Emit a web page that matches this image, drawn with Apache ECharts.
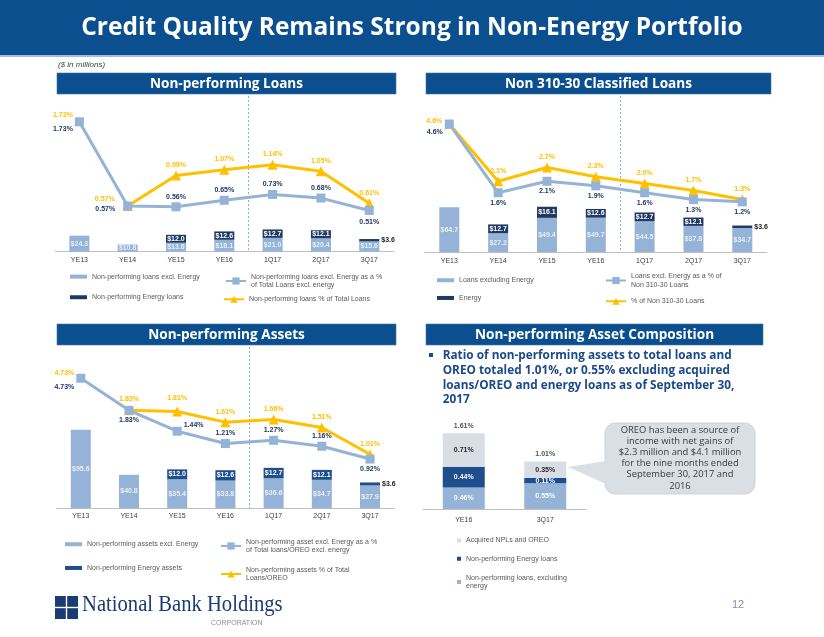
<!DOCTYPE html>
<html><head><meta charset="utf-8">
<script src="https://cdn.jsdelivr.net/npm/echarts@6/dist/echarts.min.js"></script>
<style>html,body{margin:0;padding:0;background:#fff}#c{width:824px;height:637px}</style>
</head><body><div id="c"></div>
<script>
// ---------- DATA ----------
const categories = ['YE13','YE14','YE15','YE16','1Q17','2Q17','3Q17'];
// Non-performing loans ($M and %)
const nplExEnergy    = [24.3, 10.8, 13.6, 18.1, 21.0, 20.4, 15.6];
const nplEnergy      = [null, null, 12.0, 12.6, 12.7, 12.1, 3.6];
const nplExEnergyPct = [1.73, 0.57, 0.56, 0.65, 0.73, 0.68, 0.51];
const nplTotalPct    = [1.73, 0.57, 0.99, 1.07, 1.14, 1.05, 0.61];
// Non 310-30 classified loans
const clsExEnergy    = [64.7, 27.2, 49.4, 49.7, 44.5, 37.8, 34.7];
const clsEnergy      = [null, 12.7, 16.1, 12.6, 12.7, 12.1, 3.6];
const clsExEnergyPct = [4.6, 1.6, 2.1, 1.9, 1.6, 1.3, 1.2];
const clsTotalPct    = [4.6, 2.1, 2.7, 2.3, 2.0, 1.7, 1.3];
// Non-performing assets
const npaExEnergy    = [95.6, 40.8, 35.4, 33.8, 36.6, 34.7, 27.9];
const npaEnergy      = [null, null, 12.0, 12.6, 12.7, 12.1, 3.6];
const npaExEnergyPct = [4.73, 1.83, 1.44, 1.21, 1.27, 1.16, 0.92];
const npaTotalPct    = [4.73, 1.83, 1.81, 1.61, 1.66, 1.51, 1.01];
// Non-performing asset composition (%)
const compCategories = ['YE16', '3Q17'];
const compExEnergy   = [0.46, 0.55];
const compEnergy     = [0.44, 0.11];
const compAcquired   = [0.71, 0.35];
const compTotal      = [1.61, 1.01];

// ---------- STYLE ----------
const LIGHT = '#95b3d7', NAVY = '#1f3864', MIDNAVY = '#1f4e8c', ORANGE = '#ffc000', PALE = '#d9dde5';
const DARKTXT = '#1f3864';
const FONT = 'Liberation Sans';
// label placement specs (position, dx, dy) per point
const nplBlueLbl = [['rich',0,0],['left',-6,3],['top'],['top'],['top'],['top'],['bottom',0,2]];
const nplOrgLbl  = [null,['left',-6,-7],['top'],['top'],['top'],['top'],['top']];
const clsBlueLbl = [['left',0,8],['bottom'],['bottom'],['bottom'],['bottom'],['bottom'],['bottom']];
const clsOrgLbl  = [['left',0,-3],['top'],['top'],['top'],['top'],['top'],['top']];
const npaBlueLbl = [['rich',0,2],['bottom'],['right',0,-6],['top'],['top'],['top'],['bottom']];
const npaOrgLbl  = [null,['top',0,-1],['top',0,-3],['top'],['top'],['top'],['top']];

const f2 = v => v.toFixed(2) + '%';
const f1 = v => v.toFixed(1) + '%';
const money = v => '$' + v.toFixed(1);

function lineData(vals, specs, fmt, otherVals, skipFirst) {
  return vals.map((v, i) => {
    if (skipFirst && i === 0) return '-';
    const s = specs[i];
    if (!s) return v;
    const [pos, dx = 0, dy = 0] = s;
    if (pos === 'rich') {
      return {value: v, label: {position: 'left', distance: 2, offset: [dx, dy],
        formatter: () => '{o|' + fmt(otherVals[i]) + '}\n{d|' + fmt(v) + '}',
        rich: {o: {color: ORANGE, fontSize: 7, fontWeight: 'bold', fontFamily: FONT, lineHeight: 14},
               d: {color: DARKTXT, fontSize: 7, fontWeight: 'bold', fontFamily: FONT, lineHeight: 14}}}};
    }
    return {value: v, label: {position: pos, offset: [dx, dy]}};
  });
}
function barData(vals, smallColor) {
  return vals.map(v => v == null ? '-' : (v < 5 ? {value: v, label: {position: 'right', distance: 2, color: smallColor}} : v));
}
function barSeries(name, xi, yi, stack, vals, color, lblColor) {
  return {type: 'bar', name, xAxisIndex: xi, yAxisIndex: yi, stack, barWidth: 20,
    itemStyle: {color}, data: barData(vals, '#222'),
    label: {show: true, position: 'inside', color: lblColor, fontSize: 7, fontWeight: 'bold', fontFamily: FONT,
      formatter: p => money(p.value)}};
}
function lineSeries(name, xi, yi, vals, color, symbol, size, specs, fmt, lblColor, other, skipFirst) {
  return {type: 'line', name, xAxisIndex: xi, yAxisIndex: yi, symbol, symbolSize: size,
    lineStyle: {color, width: 3}, itemStyle: {color}, z: 3,
    data: lineData(vals, specs, fmt, other, skipFirst),
    label: {show: true, position: 'top', distance: 2, color: lblColor, fontSize: 7, fontWeight: 'bold', fontFamily: FONT,
      formatter: p => fmt(p.value)}};
}

const legendText = {
  'Non-performing loans excl. Energy as a % of Total Loans excl. energy': 'Non-performing loans excl. Energy as a %\nof Total Loans excl. energy',
  'Loans excl. Energy as a % of Non 310-30 Loans': 'Loans excl. Energy as a % of\nNon 310-30 Loans',
  'Non-performing asset excl. Energy as a % of Total loans/OREO excl. energy': 'Non-performing asset excl. Energy as a %\nof Total loans/OREO excl. energy',
  'Non-performing assets % of Total Loans/OREO': 'Non-performing assets % of Total\nLoans/OREO',
  'Non-performing loans, excluding energy': 'Non-performing loans, excluding\nenergy'
};
function lg(name, left, top, kind, itemStyle) {
  const o = {left, top, padding: 0, itemGap: 0, selectedMode: false,
    data: [itemStyle ? {name, itemStyle} : name],
    textStyle: {fontSize: 7, color: '#595959', fontFamily: FONT, lineHeight: 8.5},
    formatter: n => legendText[n] || n};
  if (kind === 'bar') Object.assign(o, {icon: 'rect', itemWidth: 17, itemHeight: 4});
  else if (kind === 'sq') Object.assign(o, {icon: 'rect', itemWidth: 4, itemHeight: 4});
  else Object.assign(o, {itemWidth: 20, itemHeight: 9});
  return o;
}

const xAx = (gi, data, margin) => ({type: 'category', gridIndex: gi, data,
  axisLine: {lineStyle: {color: '#bfbfbf', width: 1}}, axisTick: {show: false},
  axisLabel: {fontSize: 7, color: '#404040', fontFamily: FONT, margin}});

const option = {
  animation: false,
  backgroundColor: '#fff',
  grid: [
    {left: 55.2, top: 100, width: 338.2, height: 151.7},
    {left: 424.9, top: 100, width: 341.8, height: 152},
    {left: 56.7, top: 374.5, width: 337.4, height: 133.8},
    {left: 423, top: 415, width: 163, height: 94}
  ],
  xAxis: [xAx(0, categories, 5), xAx(1, categories, 5.5), xAx(2, categories, 4), xAx(3, compCategories, 8)],
  yAxis: [
    {gridIndex: 0, type: 'value', min: 0, max: 230, show: false},
    {gridIndex: 0, type: 'value', min: -0.058, max: 2.03, show: false},
    {gridIndex: 1, type: 'value', min: 0, max: 220, show: false},
    {gridIndex: 1, type: 'value', min: -0.99, max: 5.65, show: false},
    {gridIndex: 2, type: 'value', min: 0, max: 163, show: false},
    {gridIndex: 2, type: 'value', min: 0, max: 4.8, show: false,
      breaks: [{start: 2.25, end: 4.6, gap: 0.05}], breakArea: {show: false}},
    {gridIndex: 3, type: 'value', min: 0, max: 2, show: false}
  ],
  legend: [
    lg('Non-performing loans excl. Energy', 70, 272.4, 'bar'),
    lg('Non-performing Energy loans', 70, 293, 'bar'),
    lg('Non-performing loans excl. Energy as a % of Total Loans excl. energy', 225, 272.5, 'line'),
    lg('Non-performing loans % of Total Loans', 223, 295, 'line'),
    lg('Loans excluding Energy', 437, 276, 'bar'),
    lg('Energy', 437, 293.7, 'bar'),
    lg('Loans excl. Energy as a % of Non 310-30 Loans', 605, 272, 'line'),
    lg('% of Non 310-30 Loans', 605, 297, 'line'),
    lg('Non-performing assets excl. Energy', 65, 540, 'bar'),
    lg('Non-performing Energy assets', 65, 563.7, 'bar'),
    lg('Non-performing asset excl. Energy as a % of Total loans/OREO excl. energy', 220, 537.5, 'line'),
    lg('Non-performing assets % of Total Loans/OREO', 220, 565.5, 'line'),
    lg('Acquired NPLs and OREO', 457, 536.2, 'sq'),
    lg('Non-performing Energy loans', 457, 554.5, 'sq', {color: MIDNAVY}),
    lg('Non-performing loans, excluding energy', 457, 573.5, 'sq')
  ],
  series: [
    // chart 1
    barSeries('Non-performing loans excl. Energy', 0, 0, 'npl', nplExEnergy, LIGHT, '#e8eef6'),
    barSeries('Non-performing Energy loans', 0, 0, 'npl', nplEnergy, NAVY, '#ffffff'),
    lineSeries('Non-performing loans % of Total Loans', 0, 1, nplTotalPct, ORANGE, 'triangle', 10, nplOrgLbl, f2, ORANGE, null, true),
    lineSeries('Non-performing loans excl. Energy as a % of Total Loans excl. energy', 0, 1, nplExEnergyPct, LIGHT, 'rect', 9, nplBlueLbl, f2, DARKTXT, nplTotalPct, false),
    // chart 2
    barSeries('Loans excluding Energy', 1, 2, 'cls', clsExEnergy, LIGHT, '#e8eef6'),
    barSeries('Energy', 1, 2, 'cls', clsEnergy, NAVY, '#ffffff'),
    lineSeries('% of Non 310-30 Loans', 1, 3, clsTotalPct, ORANGE, 'triangle', 10, clsOrgLbl, f1, ORANGE, null, false),
    lineSeries('Loans excl. Energy as a % of Non 310-30 Loans', 1, 3, clsExEnergyPct, LIGHT, 'rect', 9, clsBlueLbl, f1, DARKTXT, null, false),
    // chart 3
    barSeries('Non-performing assets excl. Energy', 2, 4, 'npa', npaExEnergy, LIGHT, '#e8eef6'),
    barSeries('Non-performing Energy assets', 2, 4, 'npa', npaEnergy, MIDNAVY, '#ffffff'),
    lineSeries('Non-performing assets % of Total Loans/OREO', 2, 5, npaTotalPct, ORANGE, 'triangle', 10, npaOrgLbl, f2, ORANGE, null, true),
    lineSeries('Non-performing asset excl. Energy as a % of Total loans/OREO excl. energy', 2, 5, npaExEnergyPct, LIGHT, 'rect', 9, npaBlueLbl, f2, DARKTXT, npaTotalPct, false),
    // chart 4
    {type: 'bar', name: 'Non-performing loans, excluding energy', xAxisIndex: 3, yAxisIndex: 6, stack: 'comp', barWidth: 42,
      itemStyle: {color: LIGHT}, data: compExEnergy,
      label: {show: true, position: 'inside', color: '#fff', fontSize: 7, fontWeight: 'bold', fontFamily: FONT, formatter: p => f2(p.value)}},
    {type: 'bar', name: 'Non-performing Energy loans', xAxisIndex: 3, yAxisIndex: 6, stack: 'comp', barWidth: 42,
      itemStyle: {color: MIDNAVY}, data: compEnergy,
      label: {show: true, position: 'inside', color: '#fff', fontSize: 7, fontWeight: 'bold', fontFamily: FONT, formatter: p => f2(p.value)}},
    {type: 'bar', name: 'Acquired NPLs and OREO', xAxisIndex: 3, yAxisIndex: 6, stack: 'comp', barWidth: 42,
      itemStyle: {color: PALE}, data: compAcquired,
      label: {show: true, position: 'inside', color: '#262626', fontSize: 7, fontWeight: 'bold', fontFamily: FONT, formatter: p => f2(p.value)}},
    {type: 'scatter', name: 'Total', xAxisIndex: 3, yAxisIndex: 6, symbolSize: 0, data: compTotal,
      label: {show: true, position: 'top', distance: 4, color: '#262626', fontSize: 7, fontWeight: 'bold', fontFamily: FONT, formatter: p => f2(p.value)}}
  ]
};

const chart = echarts.init(document.getElementById('c'), null, {renderer: 'canvas'});
chart.setOption(option);

// ---------- DECORATION ----------
const T = (x, y, text, font, fill, align, valign, extra) => Object.assign({type: 'text', x, y,
  style: {text, font, fill, textAlign: align || 'left', align: align || 'left', textVerticalAlign: valign || 'middle', verticalAlign: valign || 'middle'}}, extra || {});
const G = [];
G.push({type: 'rect', shape: {x: 0, y: 0, width: 824, height: 55}, style: {fill: '#0b4f8f'}});
G.push({type: 'rect', shape: {x: 0, y: 55, width: 824, height: 2}, style: {fill: '#a3bcd8'}});
G.push(T(412, 28, 'Credit Quality Remains Strong in Non-Energy Portfolio', 'bold 24.5px "Open Sans"', '#ffffff', 'center'));
G.push(T(58, 65, '($ in millions)', 'italic 8px "Liberation Sans"', '#404040'));
function header(x, y, w, h, text) {
  G.push({type: 'rect', shape: {x, y, width: w, height: h}, style: {fill: '#0c4f8f', stroke: '#3f73ad', lineWidth: 0.6}});
  G.push(T(x + w / 2, y + h / 2 + 0.5, text, 'bold 13.6px "Open Sans"', '#ffffff', 'center'));
}
header(57, 73, 339, 21, 'Non-performing Loans');
header(426, 73, 345, 21, 'Non 310-30 Classified Loans');
header(57, 324, 339, 21, 'Non-performing Assets');
header(426, 324, 337, 21, 'Non-performing Asset Composition');
// bullet text
G.push({type: 'rect', shape: {x: 429, y: 353, width: 4, height: 4}, style: {fill: '#1a4a8a'}});
G.push({type: 'text', x: 442.7, y: 348.6, style: {
  text: 'Ratio of non-performing assets to total loans and\nOREO totaled 1.01%, or 0.55% excluding acquired\nloans/OREO and energy loans as of September 30,\n2017',
  font: 'bold 11.8px "Open Sans"', fill: '#1a4a8a', lineHeight: 14.7, textVerticalAlign: 'top', verticalAlign: 'top'}});
// callout
G.push({type: 'rect', shape: {x: 605, y: 423, width: 150, height: 71, r: 10}, style: {fill: '#dadee5', stroke: '#c8cdd6', lineWidth: 0.8}});
G.push({type: 'polygon', shape: {points: [[606, 461], [568, 467], [606, 484]]}, style: {fill: '#dadee5'}});
G.push({type: 'text', x: 680, y: 424.4, style: {
  text: 'OREO has been a source of\nincome with net gains of\n$2.3 million and $4.1 million\nfor the nine months ended\nSeptember 30, 2017 and\n2016',
  font: '9.4px "Open Sans"', fill: '#3a3a3a', lineHeight: 11.2, textAlign: 'center', align: 'center', textVerticalAlign: 'top', verticalAlign: 'top'}});
// logo
G.push({type: 'rect', shape: {x: 55, y: 596, width: 23, height: 23}, style: {fill: '#1b3c73'}});
G.push({type: 'rect', shape: {x: 65.8, y: 596, width: 1.4, height: 23}, style: {fill: '#ffffff'}});
G.push({type: 'rect', shape: {x: 55, y: 606.8, width: 23, height: 1.4}, style: {fill: '#ffffff'}});
G.push({type: 'text', x: 82, y: 617, scaleX: 0.86, style: {text: 'National Bank Holdings', font: '24px "Liberation Serif"', fill: '#1b3c73', textVerticalAlign: 'bottom', verticalAlign: 'bottom'}});
G.push(T(211, 623, 'CORPORATION', '7px "Liberation Sans"', '#8c8c8c'));
G.push(T(738, 605, '12', '11px "Liberation Sans"', '#7f8fa6', 'center'));
// period separators between YE16 and 1Q17
function sep(xi, y0, y1) {
  const a = chart.convertToPixel({xAxisIndex: xi}, 'YE16');
  const b = chart.convertToPixel({xAxisIndex: xi}, '1Q17');
  const x = Math.round((a + b) / 2) + 0.5;
  G.push({type: 'line', shape: {x1: x, y1: y0, x2: x, y2: y1}, style: {stroke: '#8eaadb', lineWidth: 1, lineDash: [2, 2]}, z: -1});
}
sep(0, 96, 252);
sep(1, 96, 252);
sep(2, 347, 508);
chart.setOption({graphic: {elements: G}});
</script>
</body></html>
